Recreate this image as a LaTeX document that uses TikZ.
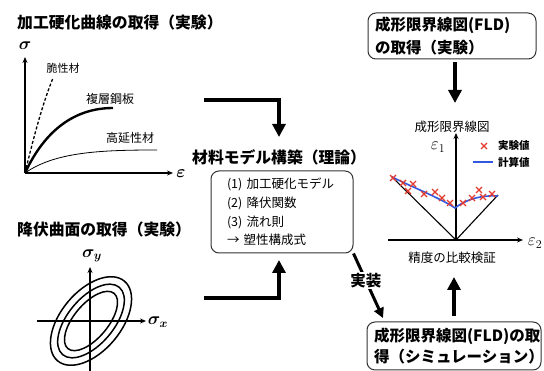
\documentclass[tikz,border=0pt]{standalone}
\usepackage{fontspec}
\setmainfont{Noto Sans CJK JP}
\usetikzlibrary{arrows.meta}
\definecolor{fldred}{HTML}{E53A2E}
\definecolor{fldblue}{HTML}{3358E0}
\begin{document}
\begin{tikzpicture}[x=1pt,y=-1pt,
  title/.style={font=\fontsize{15.8}{18}\selectfont\bfseries, anchor=west, inner sep=0pt},
  lbl/.style={font=\fontsize{12}{14}\selectfont, inner sep=0pt},
  mathlbl/.style={font=\fontsize{17}{20}\selectfont\boldmath, inner sep=0pt},
  heavy/.style={line width=4pt, -{Triangle[length=13pt,width=13pt]}},
  axis/.style={line width=1.3pt, -{Stealth[length=6pt,width=5pt]}},
  rbox/.style={draw=black!80, line width=1pt, rounded corners=8pt, align=left},
  xmark/.style={fldred, line width=1.4pt},
  curve/.style={line width=1pt},
]
\useasboundingbox (0,0) rectangle (544,371);

% ---------- titles ----------
\node[title] (t1) at (17,22) {加工硬化曲線の取得（実験）};
\node[title] (t2) at (17,229) {降伏曲面の取得（実験）};
\node[title] (t3) at (192,157) {材料モデル構築（理論）};

% ---------- stress-strain plot ----------
\coordinate (o1) at (25,173);
\coordinate (ytip1) at (25,57);
\coordinate (xtip1) at (173,173);
\draw[axis] (o1) -- (ytip1);
\draw[axis] (o1) -- (xtip1);
\node[mathlbl] (sig) at (25,46) {$\sigma$};
\node[mathlbl] (eps) at (181,174) {$\varepsilon$};
\draw[curve, line width=1.3pt, dashed, dash pattern=on 3pt off 2pt] (o1) .. controls (33,140) and (42,105) .. (53,78);
\draw[line width=2.4pt] (o1) .. controls (45,130) and (75,108) .. (113,108);
\draw[line width=0.8pt] (o1) .. controls (55,152) and (100,150) .. (157,150);
\node[lbl, font=\fontsize{11}{13}\selectfont] (brittle) at (63,68) {脆性材};
\node[lbl] (multi) at (110,99) {複層鋼板};
\node[lbl] (ductile) at (130,138) {高延性材};

% ---------- yield surface plot ----------
\coordinate (o2) at (90,321);
\coordinate (ybot2) at (90,371);
\coordinate (ytip2) at (90,267);
\coordinate (xl2) at (37,321);
\coordinate (xtip2) at (146,321);
\draw[axis] (ybot2) -- (ytip2);
\draw[axis] (xl2) -- (xtip2);
\node[mathlbl] (sy) at (92,256) {$\sigma_y$};
\node[mathlbl] (sx) at (158,322) {$\sigma_x$};
\begin{scope}[line width=1.5pt]
  \draw[rotate around={50:(91,321)}] (91,321) ellipse [x radius=52, y radius=30];
  \draw[rotate around={50:(91,321)}] (91,321) ellipse [x radius=44, y radius=23];
  \draw[rotate around={50:(91,321)}] (91,321) ellipse [x radius=36, y radius=17];
\end{scope}

% ---------- material model box ----------
\node[rbox, text width=110pt, inner xsep=16pt, minimum height=82pt,
      font=\fontsize{12.5}{18.7}\selectfont] (mbox) at (282,212)
  {(1) 加工硬化モデル\\(2) 降伏関数\\(3) 流れ則\\→ 塑性構成式};

% heavy arrows into the model
\coordinate (h1s) at (204,100);
\coordinate (h1e) at (279,137);
\draw[heavy] (h1s) -| (h1e);
\coordinate (h2s) at (204,298);
\coordinate (h2e) at (279,260);
\draw[heavy] (h2s) -| (h2e);

% ---------- FLD experiment box ----------
\node[rbox, text width=154pt, inner xsep=7pt, minimum height=46pt,
      font=\fontsize{15.5}{23}\selectfont\bfseries] (fldexp) at (452,36)
  {成形限界線図(FLD)\\の取得（実験）};
\coordinate (fldtip) at (455,103);
\draw[heavy, shorten <=3pt] (fldexp.south -| fldtip) -- (fldtip);

% ---------- FLD simulation box ----------
\node[rbox, text width=160pt, inner xsep=7pt, minimum height=48pt,
      font=\fontsize{15.5}{21}\selectfont\bfseries] (fldsim) at (454,346)
  {成形限界線図(FLD)の取\\得（シミュレーション）};
\coordinate (simtip) at (454,277);
\draw[heavy, shorten <=5pt] (fldsim.north -| simtip) -- (simtip);

% implementation arrow
\coordinate (impltip) at (383,318);
\draw[line width=3pt, -{Triangle[length=10pt,width=10pt]}] (mbox.south east) -- (impltip)
  node[pos=0.42, fill=white, inner sep=1.5pt, font=\fontsize{15.5}{18}\selectfont\bfseries] (impl) {実装};

% ---------- FLD plot ----------
\node[lbl, font=\fontsize{12.5}{14}\selectfont] (fldtitle) at (452,127) {成形限界線図};
\node[lbl, font=\fontsize{12.5}{14}\selectfont] (cmp) at (452,258) {精度の比較検証};
\coordinate (o3) at (456,240);
\coordinate (ytip3) at (456,133);
\coordinate (xl3) at (388,240);
\coordinate (xtip3) at (523,240);
\draw[axis, line width=1.1pt] (o3) -- (ytip3);
\draw[axis, line width=1.1pt] (xl3) -- (xtip3);
\node[mathlbl, font=\fontsize{17}{20}\selectfont] (e1) at (438,147) {$\varepsilon_1$};
\node[mathlbl, font=\fontsize{17}{20}\selectfont] (e2) at (535,243) {$\varepsilon_2$};
\coordinate (vl) at (392,177);
\coordinate (vr) at (498,195);
\draw[line width=1.1pt] (vl) -- (o3) -- (vr);
\draw[fldblue, line width=1.6pt] (vl) .. controls (410,186) and (440,198) .. (455,208)
  .. controls (465,200) and (480,195) .. (498,196);
\foreach \x/\y in {393/178,403/183,408/191,413/184,424/194,435/192,442/198,450/203,463/203,472/198,479/190,483/197,492/194}
  {\draw[xmark] (\x-3,\y-3) -- (\x+3,\y+3) (\x-3,\y+3) -- (\x+3,\y-3);}
% legend
\draw[xmark] (481,143) -- (487,149) (481,149) -- (487,143);
\node[lbl, anchor=west, font=\fontsize{10.5}{12}\selectfont\bfseries] (leg1) at (498,146) {実験値};
\coordinate (lb1) at (473,162);
\coordinate (lb2) at (493,162);
\draw[fldblue, line width=1.6pt] (lb1) -- (lb2);
\node[lbl, anchor=west, font=\fontsize{10.5}{12}\selectfont\bfseries] (leg2) at (498,162) {計算値};
\end{tikzpicture}
\end{document}
